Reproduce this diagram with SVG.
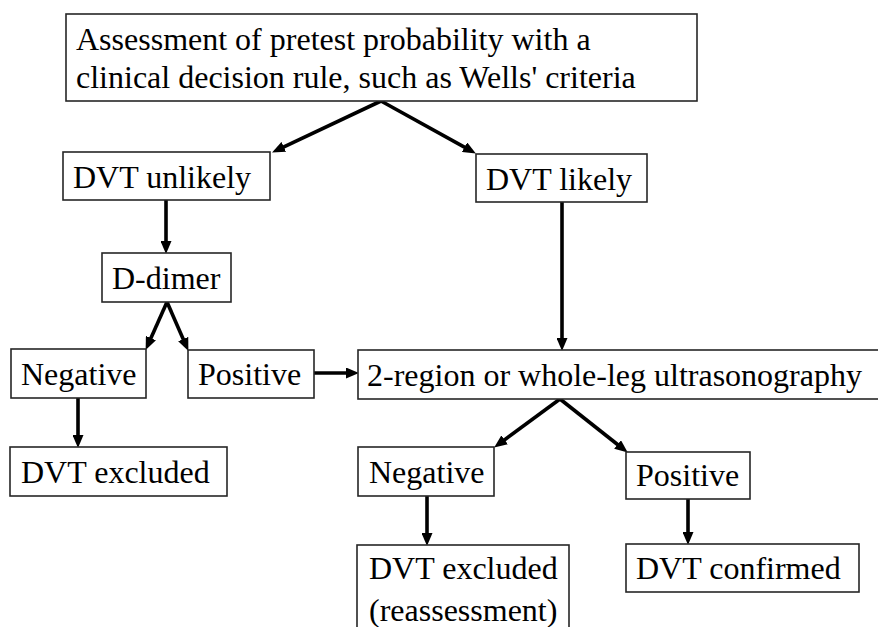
<svg xmlns="http://www.w3.org/2000/svg" width="878" height="627" viewBox="0 0 878 627">
<style>
.box{fill:#fff;stroke:#262626;stroke-width:1.6}
.t{font-family:'Liberation Serif','Times New Roman',Times,'DejaVu Serif','Noto Serif',serif;font-size:32px;fill:#000}
.c{stroke:#000;stroke-width:3.6;fill:none}
</style>
<defs>
<marker id="ah" markerUnits="userSpaceOnUse" markerWidth="13" markerHeight="11" refX="4" refY="5.5" orient="auto">
<path d="M0,0 L13,5.5 L0,11 z" fill="#000"/>
</marker>
</defs>
<rect width="878" height="627" fill="#fff"/>
<g id="connectors">
<line class="c" x1="381" y1="101" x2="280.2" y2="148.6" marker-end="url(#ah)"/>
<line class="c" x1="381" y1="101" x2="468" y2="149.1" marker-end="url(#ah)"/>
<line class="c" x1="166" y1="200" x2="166" y2="245" marker-end="url(#ah)"/>
<line class="c" x1="167" y1="302" x2="149.3" y2="341.7" marker-end="url(#ah)"/>
<line class="c" x1="167" y1="302" x2="184.8" y2="342.7" marker-end="url(#ah)"/>
<line class="c" x1="78" y1="398" x2="78" y2="439" marker-end="url(#ah)"/>
<line class="c" x1="314" y1="373" x2="350" y2="373" marker-end="url(#ah)"/>
<line class="c" x1="562" y1="202" x2="562" y2="342" marker-end="url(#ah)"/>
<line class="c" x1="560" y1="399" x2="501.4" y2="442.2" marker-end="url(#ah)"/>
<line class="c" x1="560" y1="399" x2="620.7" y2="447" marker-end="url(#ah)"/>
<line class="c" x1="427" y1="496" x2="427" y2="537" marker-end="url(#ah)"/>
<line class="c" x1="688" y1="499" x2="688" y2="536" marker-end="url(#ah)"/>
</g>
<g id="assessment">
<rect class="box" x="66" y="14" width="631" height="87"/>
<text class="t" font-family="Liberation Serif, serif" x="76" y="50">Assessment of pretest probability with a</text>
<text class="t" font-family="Liberation Serif, serif" x="76" y="88">clinical decision rule, such as Wells' criteria</text>
</g>
<g id="dvt-unlikely">
<rect class="box" x="63" y="152" width="207" height="48"/>
<text class="t" x="73" y="188">DVT unlikely</text>
</g>
<g id="dvt-likely">
<rect class="box" x="476" y="154" width="171" height="48"/>
<text class="t" x="486" y="190">DVT likely</text>
</g>
<g id="d-dimer">
<rect class="box" x="102" y="253" width="129" height="49"/>
<text class="t" x="112" y="289">D-dimer</text>
</g>
<g id="negative-dd">
<rect class="box" x="11" y="349" width="135" height="49"/>
<text class="t" x="21" y="385">Negative</text>
</g>
<g id="positive-dd">
<rect class="box" x="188" y="350" width="126" height="48"/>
<text class="t" x="198" y="385">Positive</text>
</g>
<g id="excluded-dd">
<rect class="box" x="10" y="447" width="217" height="49"/>
<text class="t" x="21" y="483">DVT excluded</text>
</g>
<g id="ultrasonography">
<rect class="box" x="358" y="350" width="540" height="49"/>
<text class="t" x="367" y="386">2-region or whole-leg ultrasonography</text>
</g>
<g id="negative-us">
<rect class="box" x="358" y="447" width="136" height="49"/>
<text class="t" x="369" y="483">Negative</text>
</g>
<g id="positive-us">
<rect class="box" x="626" y="452" width="124" height="47"/>
<text class="t" x="636" y="486">Positive</text>
</g>
<g id="excluded-us">
<rect class="box" x="357" y="545" width="212" height="100"/>
<text class="t" x="369" y="579">DVT excluded</text>
<text class="t" x="369" y="621">(reassessment)</text>
</g>
<g id="confirmed">
<rect class="box" x="626" y="544" width="233" height="48"/>
<text class="t" x="636" y="579">DVT confirmed</text>
</g>
</svg>
